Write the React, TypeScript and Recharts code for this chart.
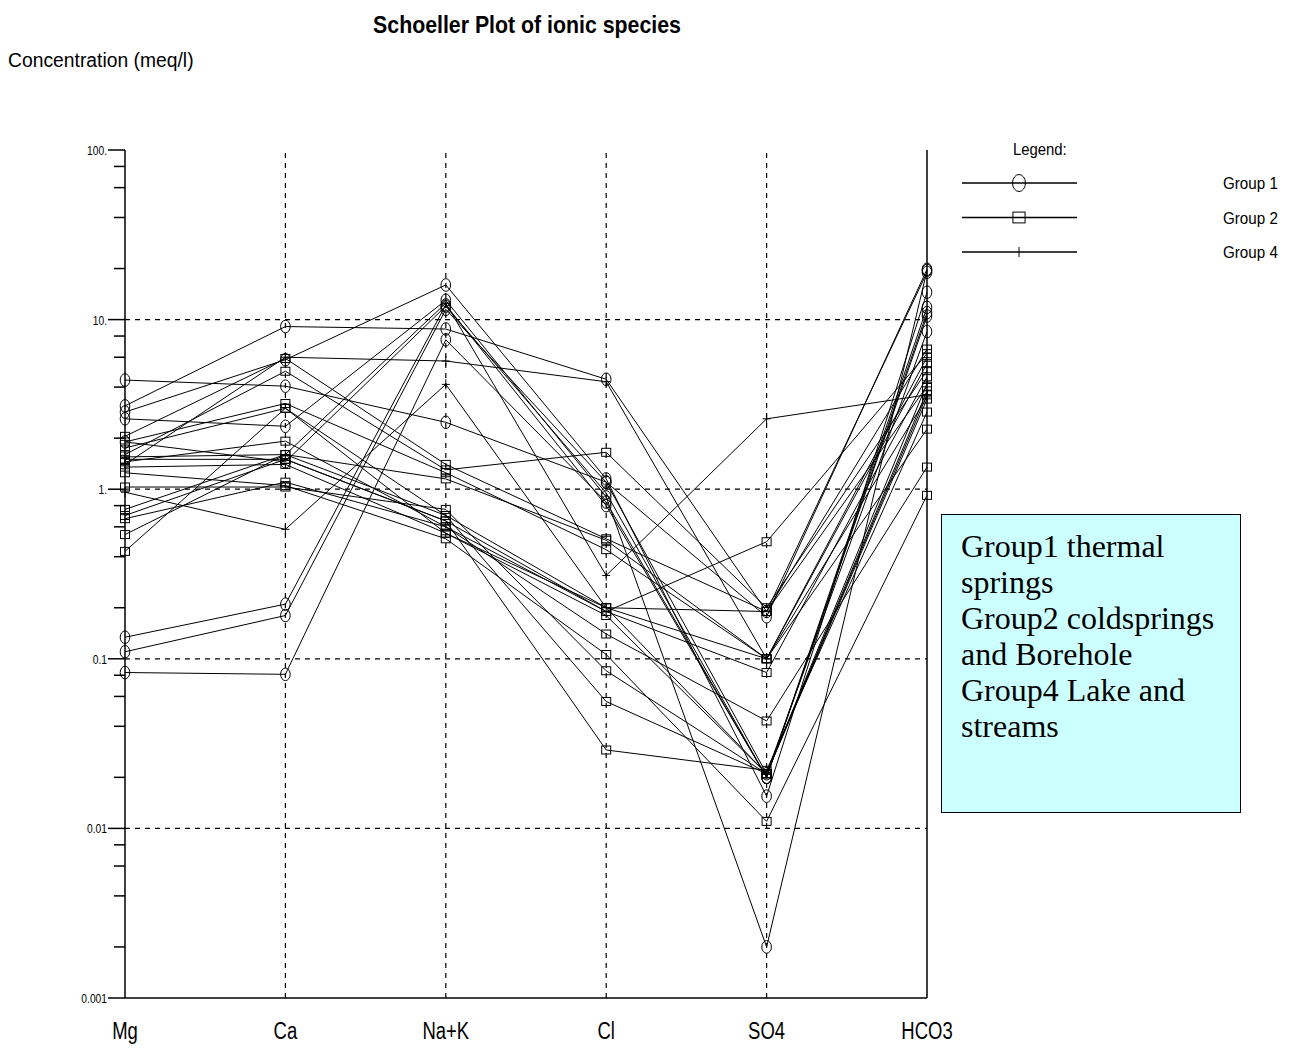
import React from 'react';
import { LineChart, Line, XAxis, YAxis, ReferenceLine } from 'recharts';

const ions = ['Mg', 'Ca', 'Na+K', 'Cl', 'SO4', 'HCO3'];

// Group 1 – thermal springs (circles): Mg, Ca, Na+K, Cl, SO4, HCO3  (meq/l)
const group1Samples = [
  [4.4, 4.05, 2.48, 1.1, 0.177, 19.8],
  [3.1, 9.1, 8.8, 4.45, 0.19, 19.0],
  [2.85, 5.8, 16.0, 1.15, 0.0155, 14.5],
  [2.6, 2.35, 13.0, 0.9, 0.002, 19.5],
  [0.134, 0.21, 12.2, 0.8, 0.02, 11.8],
  [0.11, 0.18, 11.5, 1.1, 0.021, 8.5],
  [0.083, 0.081, 7.6, 0.84, 0.02, 11.0],
  [1.9, 1.45, 12.0, 0.95, 0.02, 10.5],
];

// Group 2 – cold springs and boreholes (squares)
const group2Samples = [
  [2.05, 5.9, 1.4, 0.51, 0.19, 6.7],
  [1.9, 3.2, 1.25, 0.44, 0.1, 6.0],
  [1.75, 3.0, 0.7, 0.2, 0.1, 5.5],
  [1.6, 4.96, 1.3, 1.65, 0.2, 5.0],
  [1.5, 1.5, 0.65, 0.19, 0.083, 4.6],
  [1.45, 1.92, 0.6, 0.14, 0.043, 1.35],
  [1.35, 1.4, 0.55, 0.18, 0.021, 3.8],
  [1.25, 1.05, 0.51, 0.106, 0.011, 0.92],
  [1.03, 1.03, 0.76, 0.085, 0.021, 3.6],
  [0.76, 1.6, 0.7, 0.056, 0.021, 3.4],
  [0.7, 1.5, 0.65, 0.029, 0.022, 2.85],
  [0.67, 1.1, 0.6, 0.19, 0.49, 6.3],
  [0.54, 1.6, 1.15, 0.5, 0.1, 2.26],
  [0.43, 3.0, 0.55, 0.2, 0.19, 4.05],
];

// Group 4 – lake and streams (plus)
const group4Samples = [
  [0.96, 0.58, 4.15, 0.2, 0.021, 4.2],
  [1.4, 6.0, 5.7, 4.3, 0.1, 3.5],
  [1.55, 1.6, 12.5, 0.31, 2.6, 3.6],
];

const decadeTicks = [0.001, 0.01, 0.1, 1, 10, 100];
const decadeLabels = ['0.001', '0.01', '0.1', '1.', '10.', '100.'];
const minorMultipliers = [2, 4, 6, 8];
const gridDecades = [10, 1, 0.1, 0.01];
const gridIons = ['Ca', 'Na+K', 'Cl', 'SO4'];

const legendItems = [
  { label: 'Group 1', marker: 'circle' },
  { label: 'Group 2', marker: 'square' },
  { label: 'Group 4', marker: 'plus' },
];

const noteLines = [
  'Group1 thermal',
  'springs',
  'Group2 coldsprings',
  'and Borehole',
  'Group4 Lake and',
  'streams',
];

const allTicks: number[] = [];
decadeTicks.forEach((d, i) => {
  allTicks.push(d);
  if (i < decadeTicks.length - 1) minorMultipliers.forEach((m) => allTicks.push(+(d * m).toPrecision(6)));
});
allTicks.sort((a, b) => a - b);

type Series = { key: string; marker: string };
const series: Series[] = [];
const data = ions.map((ion, i) => {
  const row: any = { ion };
  group1Samples.forEach((s, j) => (row[`g1_${j}`] = s[i]));
  group2Samples.forEach((s, j) => (row[`g2_${j}`] = s[i]));
  group4Samples.forEach((s, j) => (row[`g4_${j}`] = s[i]));
  return row;
});
group2Samples.forEach((_, j) => series.push({ key: `g2_${j}`, marker: 'square' }));
group1Samples.forEach((_, j) => series.push({ key: `g1_${j}`, marker: 'circle' }));
group4Samples.forEach((_, j) => series.push({ key: `g4_${j}`, marker: 'plus' }));

const FONT = "'Liberation Sans', Arial, sans-serif";

const Marker = ({ type, cx, cy, big }: { type: string; cx: number; cy: number; big?: boolean }) => {
  const k = big ? 1.35 : 1;
  if (type === 'circle')
    return <ellipse cx={cx} cy={cy} rx={4.8 * k} ry={6.3 * k} fill="none" stroke="#000" strokeWidth={1} />;
  if (type === 'square')
    return (
      <rect x={cx - 4.5 * k} y={cy - 4 * k} width={9 * k} height={8 * k} fill="none" stroke="#000" strokeWidth={1} />
    );
  return (
    <path
      d={`M${cx - 4},${cy}H${cx + 4}M${cx},${cy - 5}V${cy + 5}`}
      stroke="#000"
      strokeWidth={1}
      fill="none"
    />
  );
};

const makeDot = (marker: string) => (props: any) => {
  const { cx, cy, index, dataKey } = props;
  if (cx == null || cy == null) return <g key={`${dataKey}-${index}`} />;
  return (
    <g key={`${dataKey}-${index}`}>
      <Marker type={marker} cx={cx} cy={cy} />
    </g>
  );
};

const YTick = (props: any) => {
  const { x, y, payload } = props;
  const v = payload.value;
  const idx = decadeTicks.findIndex((d) => Math.abs(d - v) / d < 1e-6);
  const major = idx >= 0;
  return (
    <g>
      <line x1={x - (major ? 17 : 11)} x2={x} y1={y} y2={y} stroke="#000" strokeWidth={1.5} />
      {major && (
        <text
          transform={`translate(${x - 18},${y + 5}) scale(0.82,1)`}
          textAnchor="end"
          fontSize={12.5}
          fontFamily={FONT}
          fill="#000"
        >
          {decadeLabels[idx]}
        </text>
      )}
    </g>
  );
};

const XTick = (props: any) => {
  const { x, y, payload } = props;
  return (
    <text
      transform={`translate(${x},${y}) scale(0.77,1)`}
      textAnchor="middle"
      dy="0.71em"
      fontSize={24}
      fontFamily={FONT}
      fill="#000"
    >
      {payload.value}
    </text>
  );
};

export default function App() {
  return (
    <div style={{ position: 'absolute', left: 0, top: 0, width: 1297, height: 1053, background: '#fff' }}>
      <LineChart
        width={1297}
        height={1053}
        data={data}
        margin={{ top: 150, right: 370, bottom: 15, left: 65 }}
      >
        <XAxis
          dataKey="ion"
          scale="point"
          padding={{ left: 0, right: 0 }}
          height={40}
          tickLine={false}
          tickSize={0}
          tickMargin={24}
          tick={<XTick />}
          interval={0}
          axisLine={{ stroke: '#000', strokeWidth: 1.5 }}
        />
        <YAxis
          scale="log"
          domain={[0.001, 100]}
          ticks={allTicks}
          interval={0}
          allowDataOverflow
          width={60}
          tickLine={false}
          tickSize={0}
          tickMargin={0}
          tick={<YTick />}
          axisLine={{ stroke: '#000', strokeWidth: 1.5 }}
        />
        {gridDecades.map((v) => (
          <ReferenceLine key={`h${v}`} y={v} stroke="#000" strokeDasharray="5 5" strokeWidth={1.2} />
        ))}
        {gridIons.map((ion) => (
          <ReferenceLine key={`v${ion}`} x={ion} stroke="#000" strokeDasharray="5 5" strokeWidth={1.2} />
        ))}
        <ReferenceLine x="HCO3" stroke="#000" strokeWidth={1.5} />
        {series.map((s) => (
          <Line
            key={s.key}
            dataKey={s.key}
            type="linear"
            stroke="#000"
            strokeWidth={1}
            dot={makeDot(s.marker)}
            activeDot={false}
            isAnimationActive={false}
          />
        ))}
      </LineChart>

      <svg
        width={1297}
        height={1053}
        style={{ position: 'absolute', left: 0, top: 0, pointerEvents: 'none' }}
      >
        <text
          transform="translate(527,33) scale(0.87,1)"
          textAnchor="middle"
          fontSize={24.5}
          fontWeight="bold"
          fontFamily={FONT}
          fill="#000"
        >
          Schoeller Plot of ionic species
        </text>
        <text transform="translate(8,67) scale(0.92,1)" fontSize={21} fontFamily={FONT} fill="#000">
          Concentration (meq/l)
        </text>
        <text transform="translate(1013,155) scale(0.93,1)" fontSize={16} fontFamily={FONT} fill="#000">
          Legend:
        </text>
        {legendItems.map((it, i) => {
          const cy = 183 + i * 34.5;
          return (
            <g key={it.label}>
              <line x1={962} x2={1077} y1={cy} y2={cy} stroke="#000" strokeWidth={1.5} />
              {it.marker === 'plus' ? (
                <line x1={1019} x2={1019} y1={cy - 5} y2={cy + 5} stroke="#000" strokeWidth={1} />
              ) : (
                <Marker type={it.marker} cx={1019} cy={cy} big />
              )}
              <text
                transform={`translate(1223,${cy + 6}) scale(0.95,1)`}
                fontSize={16}
                fontFamily={FONT}
                fill="#000"
              >
                {it.label}
              </text>
            </g>
          );
        })}
      </svg>

      <div
        style={{
          position: 'absolute',
          left: 941,
          top: 514,
          width: 300,
          height: 299,
          boxSizing: 'border-box',
          border: '1px solid #000',
          background: '#ccffff',
          padding: '13px 0 0 19px',
          fontFamily: "'Liberation Serif', 'Times New Roman', serif",
          fontSize: 32,
          lineHeight: '36px',
          color: '#000',
          whiteSpace: 'nowrap',
        }}
      >
        {noteLines.map((l) => (
          <div key={l}>{l}</div>
        ))}
      </div>
    </div>
  );
}
